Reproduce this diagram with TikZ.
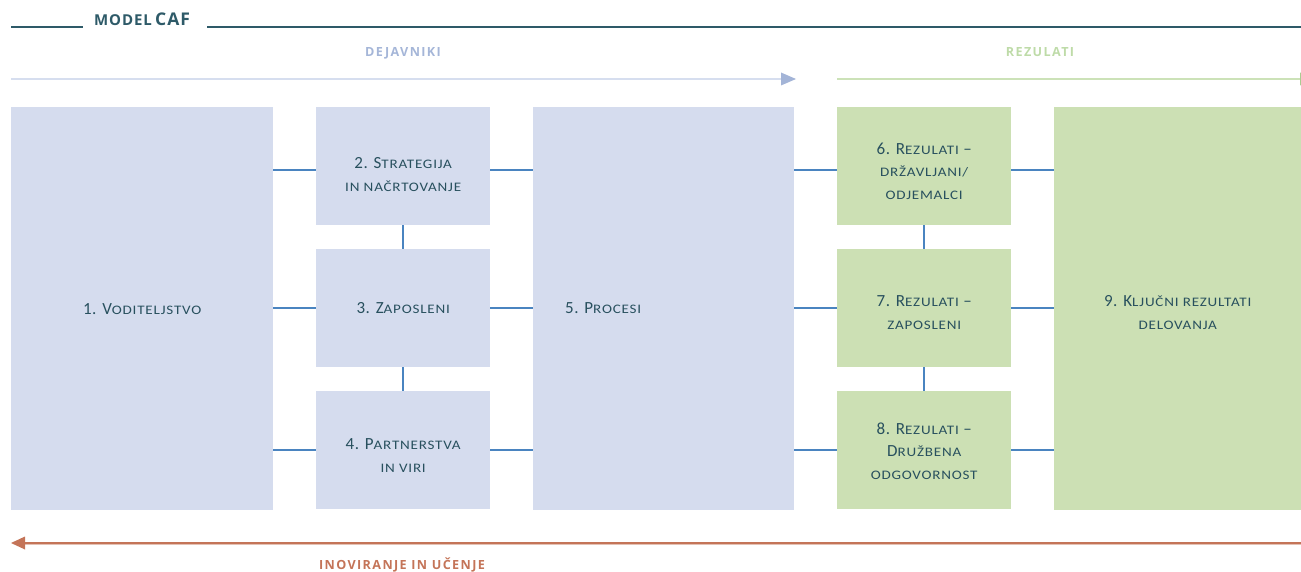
\documentclass[tikz,border=0pt]{standalone}
\usepackage{fontspec}
\setmainfont{Carlito}
\newfontfamily\headfont[LetterSpace=11]{Open Sans}
\newfontfamily\titlefont[LetterSpace=6]{Open Sans}
\newfontfamily\boxfam[LetterSpace=3]{Carlito}
\newfontfamily\scfam[FakeStretch=1.16,LetterSpace=6]{Carlito}
\newcommand\sm[1]{{\scfam\fontsize{13}{22.5}\selectfont #1}}
\newcommand\hsm[1]{{\fontsize{15}{16}\selectfont #1}}
\definecolor{bluefill}{RGB}{213,220,238}
\definecolor{greenfill}{RGB}{204,224,180}
\definecolor{conn}{RGB}{74,132,192}
\definecolor{boxtext}{RGB}{40,80,94}
\definecolor{titlecol}{RGB}{46,90,104}
\definecolor{dejcol}{RGB}{165,182,216}
\definecolor{dejline}{RGB}{214,222,239}
\definecolor{dejtip}{RGB}{163,180,215}
\definecolor{rezcol}{RGB}{190,219,168}
\definecolor{rezline}{RGB}{204,226,184}
\definecolor{rezdark}{RGB}{170,205,145}
\definecolor{redcol}{RGB}{196,116,88}
\tikzset{
  box/.style={rectangle, anchor=north west, inner sep=0pt, minimum width=174pt, minimum height=118pt},
  bluebox/.style={box, fill=bluefill},
  greenbox/.style={box, fill=greenfill},
  bigbox/.style={minimum height=403pt},
  boxlbl/.style={inner sep=0pt, align=center, text=boxtext, font=\boxfam\fontsize{17}{22.7}\selectfont},
  link/.style={draw=conn, line width=1.8pt},
  head/.style={inner sep=0pt, font=\headfont\bfseries\fontsize{12.6}{14}\selectfont},
}
\begin{document}
\begin{tikzpicture}[x=1pt,y=-1pt]
\useasboundingbox (0,0) rectangle (1301,572);
% title
\node[inner sep=0pt, font=\titlefont\bfseries, text=titlecol, anchor=base west] (title) at (94,26) {\hsm{MODEL} {\fontsize{17.5}{18}\selectfont CAF}};
\coordinate (tl1) at (11,27);
\coordinate (tl2) at (83,27);
\coordinate (tr1) at (207,27);
\coordinate (tr2) at (1301,27);
\draw[titlecol, line width=2pt] (tl1) -- (tl2);
\draw[titlecol, line width=2pt] (tr1) -- (tr2);
% headers
\node[head, text=dejcol, anchor=base] (dej) at (403,57) {DEJAVNIKI};
\node[head, text=rezcol, anchor=base] (rez) at (1040,57) {REZULATI};
\coordinate (ba) at (11,79);
\coordinate (bb) at (782,79);
\draw[dejline, line width=2.5pt] (ba) -- (bb);
\fill[dejtip] (781,72.5) -- (796,79) -- (781,85.5) -- cycle;
\coordinate (ga) at (837,79);
\coordinate (gb) at (1301,79);
\draw[rezline, line width=2.5pt] (ga) -- (gb);
\fill[rezdark] (1300,72.5) -- (1315,79) -- (1300,85.5) -- cycle;
% boxes
\node[bluebox, bigbox, minimum width=262pt,
  label={[boxlbl, name=t1]center:{1. V\sm{ODITELJSTVO}}}] (b1) at (11,107) {};
\node[bluebox, label={[boxlbl, name=t2, yshift=-8pt]center:{2. S\sm{TRATEGIJA}\\\sm{IN NAČRTOVANJE}}}] (b2) at (316,107) {};
\node[bluebox, label={[boxlbl, name=t3]center:{3. Z\sm{APOSLENI}}}] (b3) at (316,249) {};
\node[bluebox, label={[boxlbl, name=t4, yshift=-5pt]center:{4. P\sm{ARTNERSTVA}\\\sm{IN VIRI}}}] (b4) at (316,391) {};
\node[bluebox, bigbox, minimum width=261pt] (b5) at (533,107) {};
\node[boxlbl, anchor=west] (t5) at (565,308) {5. P\sm{ROCESI}};
\node[greenbox, label={[boxlbl, name=t6, yshift=-5pt]center:{6. R\sm{EZULATI} –\\\sm{DRŽAVLJANI/}\\\sm{ODJEMALCI}}}] (b6) at (837,107) {};
\node[greenbox, label={[boxlbl, name=t7, yshift=-4.5pt]center:{7. R\sm{EZULATI} –\\\sm{ZAPOSLENI}}}] (b7) at (837,249) {};
\node[greenbox, label={[boxlbl, name=t8, yshift=-1pt]center:{8. R\sm{EZULATI} –\\D\sm{RUŽBENA}\\\sm{ODGOVORNOST}}}] (b8) at (837,391) {};
\node[greenbox, bigbox, minimum width=247pt,
  label={[boxlbl, name=t9, yshift=-4pt]center:{9. K\sm{LJUČNI REZULTATI}\\\sm{DELOVANJA}}}] (b9) at (1054,107) {};
% connectors
\foreach \r/\y in {b2/170, b3/308, b4/450}{
  \draw[link] (b1.east |- 0,\y) -- (\r.west |- 0,\y);
  \draw[link] (\r.east |- 0,\y) -- (b5.west |- 0,\y);
}
\foreach \r/\y in {b6/170, b7/308, b8/450}{
  \draw[link] (b5.east |- 0,\y) -- (\r.west |- 0,\y);
  \draw[link] (\r.east |- 0,\y) -- (b9.west |- 0,\y);
}
\draw[link] (b2.south) -- (b3.north);
\draw[link] (b3.south) -- (b4.north);
\draw[link] (b6.south) -- (b7.north);
\draw[link] (b7.south) -- (b8.north);
% bottom arrow
\coordinate (ra) at (1301,543);
\coordinate (rb) at (25,543);
\draw[redcol!45, line width=1pt] (1301,544.6) -- (25,544.6);
\draw[redcol, line width=2pt] (ra) -- (rb);
\fill[redcol] (25,536.5) -- (11,543) -- (25,549.5) -- cycle;
\node[head, text=redcol, anchor=base] (ino) at (402,569) {INOVIRANJE IN UČENJE};
\end{tikzpicture}
\end{document}
